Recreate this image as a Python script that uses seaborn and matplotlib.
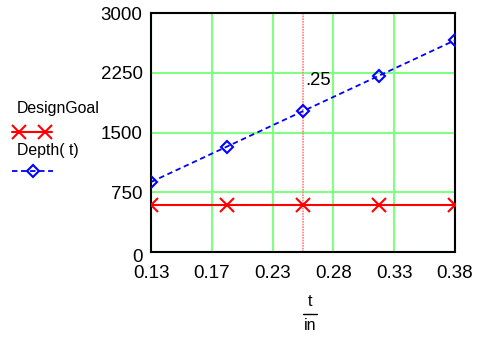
import matplotlib
matplotlib.use("Agg")
import matplotlib.pyplot as plt
import matplotlib.transforms as mtransforms
import seaborn as sns
from matplotlib.lines import Line2D

# data
t_vals = [0.125, 0.1875, 0.25, 0.3125, 0.375]
depth = [880, 1325, 1770, 2215, 2660]
design_goal = [590, 590, 590, 590, 590]
x_ticks = [0.125, 0.175, 0.225, 0.275, 0.325, 0.375]
x_tick_labels = ["0.13", "0.17", "0.23", "0.28", "0.33", "0.38"]
y_ticks = [0, 750, 1500, 2250, 3000]
marker_t = 0.25
marker_label = ".25"

sns.set_style("white")
plt.rcParams["font.family"] = ["Liberation Sans", "DejaVu Sans"]
plt.rcParams["text.color"] = "black"

fig = plt.figure(figsize=(4.78, 3.37), dpi=100)
ax = fig.add_axes([0.316, 0.252, 0.636, 0.709])

green = "#80ff80"
for xv in x_ticks:
    ax.axvline(xv, color=green, lw=1.5, zorder=0)
for yv in y_ticks:
    ax.axhline(yv, color=green, lw=1.5, zorder=0)

sns.lineplot(x=t_vals, y=design_goal, ax=ax, color="red", lw=1.5,
             marker="x", markersize=10, markeredgewidth=1.5,
             markeredgecolor="red", zorder=3)
sns.lineplot(x=t_vals, y=depth, ax=ax, color="blue", lw=1.3,
             linestyle=(0, (3, 2)), marker="D", markersize=6.5,
             markerfacecolor="none", markeredgecolor="blue",
             markeredgewidth=1.5, zorder=4)

ax.axvline(marker_t, color="#ff8080", lw=1.2, linestyle=(0, (1, 0.6)), zorder=2)
ax.text(marker_t + 0.002, 2160, marker_label, fontsize=13.3,
        ha="left", va="center", color="black")

ax.set_xlim(x_ticks[0], x_ticks[-1])
ax.set_ylim(y_ticks[0], y_ticks[-1])
ax.set_xticks(x_ticks)
ax.set_xticklabels(x_tick_labels)
ax.set_yticks(y_ticks)
ax.set_yticklabels([str(v) for v in y_ticks])
ax.tick_params(axis="both", length=0, labelsize=13.5, colors="black")
ax.tick_params(axis="x", pad=9)
ax.tick_params(axis="y", pad=6)
# Mathcad puts the bottom "0" a little below the axis
zero_lbl = ax.yaxis.get_major_ticks()[0].label1
zero_lbl.set_transform(zero_lbl.get_transform() +
                       mtransforms.ScaledTranslation(0, -3 / 100, fig.dpi_scale_trans))
for sp in ax.spines.values():
    sp.set_visible(True)
    sp.set_color("black")
    sp.set_linewidth(1.5)

# x axis label as a fraction t / in
fig.text(310 / 478, 1 - 302 / 337, "t", ha="center", va="center", fontsize=11.5)
fig.add_artist(Line2D([303 / 478, 317 / 478], [1 - 314 / 337, 1 - 314 / 337],
                      color="black", lw=1))
fig.text(310 / 478, 1 - 326 / 337, "in", ha="center", va="center", fontsize=11.5)

# legend, Mathcad style: name above the line sample
fig.text(17 / 478, 1 - 109 / 337, "DesignGoal", ha="left", va="center", fontsize=11.4)
fig.add_artist(Line2D([12 / 478, 52 / 478], [1 - 132 / 337] * 2, color="red", lw=1.5))
fig.add_artist(Line2D([19 / 478, 45 / 478], [1 - 132 / 337] * 2, color="red", lw=0,
                      marker="x", markersize=10, markeredgewidth=1.5))
fig.text(17 / 478, 1 - 150 / 337, "Depth( t)", ha="left", va="center", fontsize=11.4)
fig.add_artist(Line2D([12 / 478, 53 / 478], [1 - 171 / 337] * 2, color="blue", lw=1.3,
                      linestyle=(0, (3, 2))))
fig.add_artist(Line2D([32.5 / 478], [1 - 171 / 337], color="blue", lw=0, marker="D",
                      markersize=6.5, markerfacecolor="none", markeredgewidth=1.5))

fig.savefig("out.png", dpi=100)
